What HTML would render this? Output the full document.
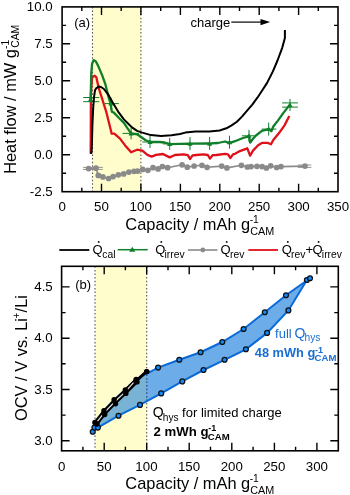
<!DOCTYPE html><html><head><meta charset="utf-8"><style>html,body{margin:0;padding:0;background:#fff;}svg{display:block;will-change:transform;}text{font-family:"Liberation Sans",sans-serif;}</style></head><body>
<svg width="350" height="495" viewBox="0 0 350 495">
<rect x="92.5" y="6.9" width="48.5" height="184.8" fill="#FFFDCC"/>
<line x1="92.5" y1="6.9" x2="92.5" y2="191.7" stroke="#555" stroke-width="1.1" stroke-dasharray="1.5,2.1"/>
<line x1="140.9" y1="6.9" x2="140.9" y2="191.7" stroke="#555" stroke-width="1.1" stroke-dasharray="1.5,2.1"/>
<polyline points="88.6,168.6 96.0,168.2 98.3,175.4 102.9,176.9 108.6,178.5 113.1,176.6 118.4,174.8 123.7,173.9 128.9,172.1 134.0,171.3 137.6,171.1 142.7,169.4 147.9,170.3 153.0,167.7 158.1,168.9 162.4,166.5 167.6,167.7 182.1,164.8 187.3,167.2 194.1,166.0 202.0,165.3 207.1,167.3 221.7,166.1 226.9,167.9 241.4,165.3 247.4,167.0 251.0,166.6 257.0,166.3 262.1,166.6 266.4,168.0 270.7,165.8 276.7,167.5 281.0,166.6 305.0,166.1" fill="none" stroke="#8a8a8a" stroke-width="1.6" stroke-linejoin="round"/>
<circle cx="88.6" cy="168.6" r="2.85" fill="#8a8a8a"/>
<circle cx="96" cy="168.2" r="2.85" fill="#8a8a8a"/>
<circle cx="98.3" cy="175.4" r="2.85" fill="#8a8a8a"/>
<circle cx="102.9" cy="176.9" r="2.85" fill="#8a8a8a"/>
<circle cx="108.6" cy="178.5" r="2.85" fill="#8a8a8a"/>
<circle cx="113.1" cy="176.6" r="2.85" fill="#8a8a8a"/>
<circle cx="118.4" cy="174.8" r="2.85" fill="#8a8a8a"/>
<circle cx="123.7" cy="173.9" r="2.85" fill="#8a8a8a"/>
<circle cx="128.9" cy="172.1" r="2.85" fill="#8a8a8a"/>
<circle cx="134" cy="171.3" r="2.85" fill="#8a8a8a"/>
<circle cx="137.6" cy="171.1" r="2.85" fill="#8a8a8a"/>
<circle cx="142.7" cy="169.4" r="2.85" fill="#8a8a8a"/>
<circle cx="147.9" cy="170.3" r="2.85" fill="#8a8a8a"/>
<circle cx="153" cy="167.7" r="2.85" fill="#8a8a8a"/>
<circle cx="158.1" cy="168.9" r="2.85" fill="#8a8a8a"/>
<circle cx="162.4" cy="166.5" r="2.85" fill="#8a8a8a"/>
<circle cx="167.6" cy="167.7" r="2.85" fill="#8a8a8a"/>
<circle cx="182.1" cy="164.8" r="2.85" fill="#8a8a8a"/>
<circle cx="187.3" cy="167.2" r="2.85" fill="#8a8a8a"/>
<circle cx="194.1" cy="166" r="2.85" fill="#8a8a8a"/>
<circle cx="202" cy="165.3" r="2.85" fill="#8a8a8a"/>
<circle cx="207.1" cy="167.3" r="2.85" fill="#8a8a8a"/>
<circle cx="221.7" cy="166.1" r="2.85" fill="#8a8a8a"/>
<circle cx="226.9" cy="167.9" r="2.85" fill="#8a8a8a"/>
<circle cx="241.4" cy="165.3" r="2.85" fill="#8a8a8a"/>
<circle cx="247.4" cy="167" r="2.85" fill="#8a8a8a"/>
<circle cx="251" cy="166.6" r="2.85" fill="#8a8a8a"/>
<circle cx="257" cy="166.3" r="2.85" fill="#8a8a8a"/>
<circle cx="262.1" cy="166.6" r="2.85" fill="#8a8a8a"/>
<circle cx="266.4" cy="168" r="2.85" fill="#8a8a8a"/>
<circle cx="270.7" cy="165.8" r="2.85" fill="#8a8a8a"/>
<circle cx="276.7" cy="167.5" r="2.85" fill="#8a8a8a"/>
<circle cx="281" cy="166.6" r="2.85" fill="#8a8a8a"/>
<circle cx="305" cy="166.1" r="2.85" fill="#8a8a8a"/>
<path d="M82.9,167.4H102.9M82.9,169.4H102.9M297.9,165H311.4M297.9,167.4H311.4" stroke="#8a8a8a" stroke-width="0.9"/>
<polyline points="90.7,153.8 90.9,95.0 91.3,88.0 92.1,77.4 94.7,75.7 96.4,77.4 97.6,83.1 98.7,88.0 102.1,98.7 106.1,111.3 108.3,120.0 111.7,133.7 114.3,133.7 120.0,138.6 125.1,145.4 131.1,152.3 137.1,149.7 142.3,150.6 147.4,154.9 151.7,156.6 156.0,154.9 162.9,154.0 169.7,157.4 175.0,155.0 183.6,154.3 187.8,155.2 190.0,159.0 192.6,155.4 196.4,155.0 203.6,154.3 207.8,155.0 210.0,158.6 212.6,155.2 216.4,155.0 225.0,153.8 228.0,154.4 230.4,158.0 233.0,154.4 235.0,153.8 239.9,151.1 247.3,148.3 250.1,155.7 253.0,150.6 258.1,145.2 261.9,142.9 267.6,142.9 271.0,144.2 273.3,140.0 279.0,133.1 284.7,125.1 289.3,116.0" fill="none" stroke="#e0101a" stroke-width="2.3" stroke-linejoin="round"/>
<polyline points="90.6,100.0 91.3,72.9 92.1,63.7 93.6,60.1 95.9,61.4 98.7,67.1 102.1,75.1 105.3,84.0 108.4,96.4 110.7,104.4 111.9,111.9 113.6,112.4 119.5,118.5 123.9,122.9 126.9,127.4 131.1,133.4 137.1,134.3 145.7,140.3 150.0,142.0 159.4,142.0 164.6,142.5 169.7,144.2 180.0,143.8 188.6,143.6 190.0,145.0 191.4,143.6 208.6,143.4 210.0,144.8 211.4,143.4 218.0,143.0 225.0,141.5 229.5,143.2 235.0,141.2 243.0,138.0 249.0,136.4 250.2,142.5 253.0,138.8 256.0,135.5 261.9,130.9 268.7,129.1 271.3,131.2 273.3,126.5 277.9,120.6 283.6,112.6 289.9,104.6" fill="none" stroke="#0f7f2a" stroke-width="2.3" stroke-linejoin="round"/>
<path d="M83.2,97.5H99.3M83.2,101.69999999999999H99.3M90.5,97.6V101.6M104.6,103.6H118.9M110.9,97.6V109.6M122.6,133.4H138.9M131.1,127.4V139.4M142.3,142H157.7M150,136V148M162.9,143.9H176.6M169.7,137.9V149.9M186,143.6H194M190,137.1V150.1M206,143.4H213M209.6,136.9V149.9M226,142.2H233M229.5,135.7V148.7M242,135.8H255.7M249,129.8V141.8M261.7,129.1H276.3M268.7,122.6V135.6M282.1,102.9H297.9M282.1,107.1H297.9M290,99V111" stroke="#0f7f2a" stroke-width="1.0" fill="none"/>
<path d="M87.9,101.6L93.1,101.6L90.5,97.0Z" fill="#0f7f2a"/>
<path d="M108.30000000000001,105.6L113.5,105.6L110.9,101.0Z" fill="#0f7f2a"/>
<path d="M128.5,135.4L133.7,135.4L131.1,130.8Z" fill="#0f7f2a"/>
<path d="M147.4,144L152.6,144L150,139.4Z" fill="#0f7f2a"/>
<path d="M167.1,145.9L172.29999999999998,145.9L169.7,141.3Z" fill="#0f7f2a"/>
<path d="M187.4,145.6L192.6,145.6L190,141.0Z" fill="#0f7f2a"/>
<path d="M207.0,145.4L212.2,145.4L209.6,140.8Z" fill="#0f7f2a"/>
<path d="M226.9,144.2L232.1,144.2L229.5,139.6Z" fill="#0f7f2a"/>
<path d="M246.4,137.8L251.6,137.8L249,133.20000000000002Z" fill="#0f7f2a"/>
<path d="M266.09999999999997,131.1L271.3,131.1L268.7,126.5Z" fill="#0f7f2a"/>
<path d="M287.4,107L292.6,107L290,102.4Z" fill="#0f7f2a"/>
<polyline points="91.1,153.8 91.7,150.0 92.4,125.0 93.2,107.9 94.1,96.4 95.1,90.0 96.4,88.2 98.9,86.5 101.0,87.0 103.9,89.0 107.9,94.1 112.4,102.1 118.1,111.6 123.9,119.4 128.0,123.5 132.0,127.4 137.1,130.9 142.3,132.6 150.9,135.1 161.1,136.0 171.4,135.3 180.0,134.0 185.3,132.6 195.6,131.4 209.3,131.4 219.6,130.5 226.4,128.3 231.6,125.4 236.9,121.7 242.0,116.6 247.1,110.6 252.3,104.6 257.4,97.7 261.5,91.5 267.1,82.9 272.9,71.4 277.5,60.5 282.3,47.6 284.9,38.1 284.9,30.1" fill="none" stroke="#000" stroke-width="2.0" stroke-linejoin="round"/>
<path d="M81.8,191.7v-4M81.8,6.9v4M101.5,191.7v-8M101.5,6.9v8M121.2,191.7v-4M121.2,6.9v4M140.9,191.7v-8M140.9,6.9v8M160.7,191.7v-4M160.7,6.9v4M180.4,191.7v-8M180.4,6.9v8M200.1,191.7v-4M200.1,6.9v4M219.8,191.7v-8M219.8,6.9v8M239.5,191.7v-4M239.5,6.9v4M259.2,191.7v-8M259.2,6.9v8M278.9,191.7v-4M278.9,6.9v4M298.6,191.7v-8M298.6,6.9v8M318.3,191.7v-4M318.3,6.9v4M62.1,173.2h4M338.0,173.2h-4M62.1,154.7h8M338.0,154.7h-8M62.1,136.2h4M338.0,136.2h-4M62.1,117.8h8M338.0,117.8h-8M62.1,99.3h4M338.0,99.3h-4M62.1,80.8h8M338.0,80.8h-8M62.1,62.3h4M338.0,62.3h-4M62.1,43.8h8M338.0,43.8h-8M62.1,25.4h4M338.0,25.4h-4" stroke="#000" stroke-width="1.4" fill="none"/>
<rect x="62.1" y="6.9" width="275.9" height="184.8" fill="none" stroke="#000" stroke-width="1.6"/>
<text x="58.40" y="211.00" font-size="13.3">0</text>
<text x="94.12" y="211.00" font-size="13.3">50</text>
<text x="129.60" y="211.00" font-size="13.3">100</text>
<text x="169.02" y="211.00" font-size="13.3">150</text>
<text x="208.61" y="211.00" font-size="13.3">200</text>
<text x="248.03" y="211.00" font-size="13.3">250</text>
<text x="287.53" y="211.00" font-size="13.3">300</text>
<text x="326.95" y="211.00" font-size="13.3">350</text>
<text x="26.84" y="11.30" font-size="13.3">10.0</text>
<text x="34.27" y="48.25" font-size="13.3">7.5</text>
<text x="34.23" y="85.20" font-size="13.3">5.0</text>
<text x="34.27" y="122.15" font-size="13.3">2.5</text>
<text x="34.23" y="159.10" font-size="13.3">0.0</text>
<text x="29.84" y="196.05" font-size="13.3">-2.5</text>
<text x="74.19" y="26.80" font-size="13">(a)</text>
<text x="190.55" y="27.00" font-size="13">charge</text>
<path d="M231.3,22.1H262" stroke="#000" stroke-width="1.2"/><path d="M260.5,19.0L270.2,22.1L260.5,25.2Z" fill="#000"/>
<text x="125.36" y="229.70" font-size="16.4">Capacity / mAh g</text>
<text x="249.65" y="223.20" font-size="10.3">-1</text>
<text x="250.15" y="235.30" font-size="10.8">CAM</text>
<text transform="translate(16.00,173.84) rotate(-90)" font-size="16.4">Heat flow / mW g</text>
<text transform="translate(8.60,48.95) rotate(-90)" font-size="10.3">-1</text>
<text transform="translate(18.70,47.83) rotate(-90)" font-size="10.4">CAM</text>
<path d="M59.3,250H89.3" stroke="#000" stroke-width="1.8"/>
<text x="92.59" y="254.00" font-size="13.0">Q</text>
<circle cx="98.70" cy="241.9" r="0.95" fill="#000"/>
<text x="102.25" y="258.00" font-size="10.3">cal</text>
<path d="M117.6,249.7H147.7" stroke="#0f7f2a" stroke-width="1.5"/><path d="M129.2,251.7L135.4,251.7L132.3,246.8Z" fill="#0f7f2a"/>
<text x="155.19" y="254.00" font-size="13.0">Q</text>
<circle cx="161.30" cy="241.9" r="0.95" fill="#000"/>
<text x="164.59" y="258.00" font-size="10.3">irrev</text>
<path d="M187.9,250H217.4" stroke="#8a8a8a" stroke-width="1.6"/><circle cx="202.8" cy="250" r="2.4" fill="#8a8a8a"/>
<text x="220.59" y="254.00" font-size="13.0">Q</text>
<circle cx="226.70" cy="241.9" r="0.95" fill="#000"/>
<text x="230.00" y="258.00" font-size="10.3">rev</text>
<path d="M248.3,250H278" stroke="#e0101a" stroke-width="1.8"/>
<text x="281.69" y="254.00" font-size="13.0">Q</text>
<circle cx="287.80" cy="241.9" r="0.95" fill="#000"/>
<text x="291.10" y="258.00" font-size="10.3">rev</text>
<text x="305.53" y="254.00" font-size="13.0">+</text>
<text x="312.47" y="254.00" font-size="13.0">Q</text>
<circle cx="318.58" cy="241.9" r="0.95" fill="#000"/>
<text x="321.87" y="258.00" font-size="10.3">irrev</text>
<rect x="95.0" y="266.3" width="51.7" height="184.5" fill="#FFFDCC"/>
<clipPath id="yc"><rect x="95.0" y="266.3" width="51.7" height="184.5"/></clipPath>
<polygon points="94.4,427.6 94.9,422.5 103.9,410.7 114.1,399.8 125.3,390.0 136.1,379.4 142.1,376.2 158.1,367.6 179.3,359.7 200.6,352.2 222.3,342.0 243.6,329.0 264.8,312.3 286.0,295.3 310.0,278.3 306.9,280.0 288.4,310.4 267.1,332.9 245.9,349.3 224.6,359.8 203.5,370.0 182.3,381.4 161.2,393.4 140.0,404.9 118.5,415.7 97.9,427.6 92.7,431.7" fill="rgb(108,172,232)" stroke="none"/>
<polygon points="94.4,427.6 94.9,422.5 103.9,410.7 114.1,399.8 125.3,390.0 136.1,379.4 142.1,376.2 158.1,367.6 179.3,359.7 200.6,352.2 222.3,342.0 243.6,329.0 264.8,312.3 286.0,295.3 310.0,278.3 306.9,280.0 288.4,310.4 267.1,332.9 245.9,349.3 224.6,359.8 203.5,370.0 182.3,381.4 161.2,393.4 140.0,404.9 118.5,415.7 97.9,427.6 92.7,431.7" fill="rgb(120,178,212)" stroke="none" clip-path="url(#yc)"/>
<clipPath id="pc"><polygon points="94.4,427.6 94.9,422.5 103.9,410.7 114.1,399.8 125.3,390.0 136.1,379.4 142.1,376.2 158.1,367.6 179.3,359.7 200.6,352.2 222.3,342.0 243.6,329.0 264.8,312.3 286.0,295.3 310.0,278.3 306.9,280.0 288.4,310.4 267.1,332.9 245.9,349.3 224.6,359.8 203.5,370.0 182.3,381.4 161.2,393.4 140.0,404.9 118.5,415.7 97.9,427.6 92.7,431.7"/></clipPath>
<line x1="95.0" y1="266.3" x2="95.0" y2="450.8" stroke="#555" stroke-width="1.1" stroke-dasharray="1.5,2.1"/>
<line x1="95.0" y1="266.3" x2="95.0" y2="450.8" stroke="#2f64a8" stroke-width="1.2" stroke-dasharray="1.5,2.1" clip-path="url(#pc)"/>
<line x1="146.7" y1="266.3" x2="146.7" y2="450.8" stroke="#555" stroke-width="1.1" stroke-dasharray="1.5,2.1"/>
<line x1="146.7" y1="266.3" x2="146.7" y2="450.8" stroke="#2f64a8" stroke-width="1.2" stroke-dasharray="1.5,2.1" clip-path="url(#pc)"/>
<polyline points="94.4,427.6 94.9,422.5 103.9,410.7 114.1,399.8 125.3,390.0 136.1,379.4 142.1,376.2 158.1,367.6 179.3,359.7 200.6,352.2 222.3,342.0 243.6,329.0 264.8,312.3 286.0,295.3 310.0,278.3" fill="none" stroke="#0a6ad8" stroke-width="2.0"/>
<polyline points="306.9,280.0 288.4,310.4 267.1,332.9 245.9,349.3 224.6,359.8 203.5,370.0 182.3,381.4 161.2,393.4 140.0,404.9 118.5,415.7 97.9,427.6 92.7,431.7" fill="none" stroke="#0a6ad8" stroke-width="2.0"/>
<circle cx="92.7" cy="431.7" r="2.45" fill="#0d8bff" stroke="#111" stroke-width="1.25"/>
<circle cx="94.4" cy="427.6" r="2.45" fill="#0d8bff" stroke="#111" stroke-width="1.25"/>
<circle cx="97.9" cy="427.6" r="2.45" fill="#0d8bff" stroke="#111" stroke-width="1.25"/>
<circle cx="118.5" cy="415.7" r="2.45" fill="#0d8bff" stroke="#111" stroke-width="1.25"/>
<circle cx="140" cy="404.9" r="2.45" fill="#0d8bff" stroke="#111" stroke-width="1.25"/>
<circle cx="161.2" cy="393.4" r="2.45" fill="#0d8bff" stroke="#111" stroke-width="1.25"/>
<circle cx="182.3" cy="381.4" r="2.45" fill="#0d8bff" stroke="#111" stroke-width="1.25"/>
<circle cx="203.5" cy="370" r="2.45" fill="#0d8bff" stroke="#111" stroke-width="1.25"/>
<circle cx="224.6" cy="359.8" r="2.45" fill="#0d8bff" stroke="#111" stroke-width="1.25"/>
<circle cx="245.9" cy="349.3" r="2.45" fill="#0d8bff" stroke="#111" stroke-width="1.25"/>
<circle cx="267.1" cy="332.9" r="2.45" fill="#0d8bff" stroke="#111" stroke-width="1.25"/>
<circle cx="288.4" cy="310.4" r="2.45" fill="#0d8bff" stroke="#111" stroke-width="1.25"/>
<circle cx="306.9" cy="280" r="2.45" fill="#0d8bff" stroke="#111" stroke-width="1.25"/>
<circle cx="310" cy="278.3" r="2.45" fill="#0d8bff" stroke="#111" stroke-width="1.25"/>
<circle cx="286" cy="295.3" r="2.45" fill="#0d8bff" stroke="#111" stroke-width="1.25"/>
<circle cx="264.8" cy="312.3" r="2.45" fill="#0d8bff" stroke="#111" stroke-width="1.25"/>
<circle cx="243.6" cy="329" r="2.45" fill="#0d8bff" stroke="#111" stroke-width="1.25"/>
<circle cx="222.3" cy="342" r="2.45" fill="#0d8bff" stroke="#111" stroke-width="1.25"/>
<circle cx="200.6" cy="352.2" r="2.45" fill="#0d8bff" stroke="#111" stroke-width="1.25"/>
<circle cx="179.3" cy="359.7" r="2.45" fill="#0d8bff" stroke="#111" stroke-width="1.25"/>
<circle cx="158.1" cy="367.6" r="2.45" fill="#0d8bff" stroke="#111" stroke-width="1.25"/>
<polyline points="96.0,423.2 104.3,412.6 114.8,401.8 125.5,391.7 136.6,380.6" fill="none" stroke="#000" stroke-width="5.2" stroke-linejoin="round"/>
<polyline points="136.6,380.6 146.5,371.4" fill="none" stroke="#000" stroke-width="2.8"/>
<polyline points="96.0,423.2 104.3,412.6 114.8,401.8 125.5,391.7 133.5,382.6" fill="none" stroke="#e4e4e4" stroke-width="1.2"/>
<circle cx="94.9" cy="422.5" r="2.7" fill="#000"/>
<circle cx="103.9" cy="410.7" r="2.7" fill="#000"/>
<circle cx="114.1" cy="399.8" r="2.7" fill="#000"/>
<circle cx="125.3" cy="390" r="2.7" fill="#000"/>
<circle cx="136.1" cy="379.4" r="2.7" fill="#000"/>
<circle cx="146.7" cy="371.6" r="2.7" fill="#000"/>
<circle cx="146.7" cy="371.6" r="2.7" fill="#000"/>
<circle cx="137" cy="381.9" r="2.7" fill="#000"/>
<circle cx="125.8" cy="393.4" r="2.7" fill="#000"/>
<circle cx="115.5" cy="403.7" r="2.7" fill="#000"/>
<circle cx="104.7" cy="414.6" r="2.7" fill="#000"/>
<circle cx="97" cy="424" r="2.7" fill="#000"/>
<path d="M82.9,450.8v-4M82.9,266.3v4M104.2,450.8v-8M104.2,266.3v8M125.4,450.8v-4M125.4,266.3v4M146.7,450.8v-8M146.7,266.3v8M168.0,450.8v-4M168.0,266.3v4M189.2,450.8v-8M189.2,266.3v8M210.5,450.8v-4M210.5,266.3v4M231.8,450.8v-8M231.8,266.3v8M253.1,450.8v-4M253.1,266.3v4M274.4,450.8v-8M274.4,266.3v8M295.6,450.8v-4M295.6,266.3v4M316.9,450.8v-8M316.9,266.3v8M61.6,440.8h8M338.3,440.8h-8M61.6,415.1h4M338.3,415.1h-4M61.6,389.5h8M338.3,389.5h-8M61.6,363.8h4M338.3,363.8h-4M61.6,338.2h8M338.3,338.2h-8M61.6,312.6h4M338.3,312.6h-4M61.6,286.9h8M338.3,286.9h-8" stroke="#000" stroke-width="1.4" fill="none"/>
<rect x="61.6" y="266.3" width="276.7" height="184.5" fill="none" stroke="#000" stroke-width="1.6"/>
<text x="57.90" y="470.50" font-size="13.3">0</text>
<text x="96.75" y="470.50" font-size="13.3">50</text>
<text x="135.36" y="470.50" font-size="13.3">100</text>
<text x="177.91" y="470.50" font-size="13.3">150</text>
<text x="220.63" y="470.50" font-size="13.3">200</text>
<text x="263.18" y="470.50" font-size="13.3">250</text>
<text x="305.81" y="470.50" font-size="13.3">300</text>
<text x="34.27" y="290.90" font-size="13.3">4.5</text>
<text x="34.23" y="342.20" font-size="13.3">4.0</text>
<text x="34.27" y="393.50" font-size="13.3">3.5</text>
<text x="34.23" y="444.80" font-size="13.3">3.0</text>
<text x="75.29" y="288.60" font-size="13">(b)</text>
<text x="125.36" y="488.70" font-size="16.4">Capacity / mAh g</text>
<text x="249.65" y="482.20" font-size="10.3">-1</text>
<text x="250.15" y="494.30" font-size="10.8">CAM</text>
<text transform="translate(26.80,420.97) rotate(-90)" font-size="16.4">OCV / V vs. Li</text>
<text transform="translate(19.50,318.49) rotate(-90)" font-size="10">+</text>
<text transform="translate(26.80,312.40) rotate(-90)" font-size="16.4">/Li</text>
<text x="275.12" y="337.50" font-size="13" fill="#1a6ed2">full</text>
<text x="294.54" y="337.50" font-size="14" fill="#1a6ed2">Q</text>
<text x="304.56" y="341.20" font-size="10.2" fill="#1a6ed2">hys</text>
<text x="254.81" y="357.10" font-size="12.8" font-weight="bold" fill="#1a6ed2">48 mWh g</text>
<text x="315.05" y="352.90" font-size="9.0" font-weight="bold" fill="#1a6ed2">-1</text>
<text x="314.61" y="360.50" font-size="9.6" font-weight="bold" fill="#1a6ed2">CAM</text>
<text x="152.84" y="417.00" font-size="14">Q</text>
<text x="162.86" y="420.50" font-size="10.2">hys</text>
<text x="182.12" y="417.30" font-size="13">for limited charge</text>
<text x="153.54" y="436.30" font-size="13.2" font-weight="bold">2 mWh g</text>
<text x="208.31" y="431.20" font-size="9.0" font-weight="bold">-1</text>
<text x="207.86" y="439.70" font-size="9.6" font-weight="bold">CAM</text>
</svg></body></html>
